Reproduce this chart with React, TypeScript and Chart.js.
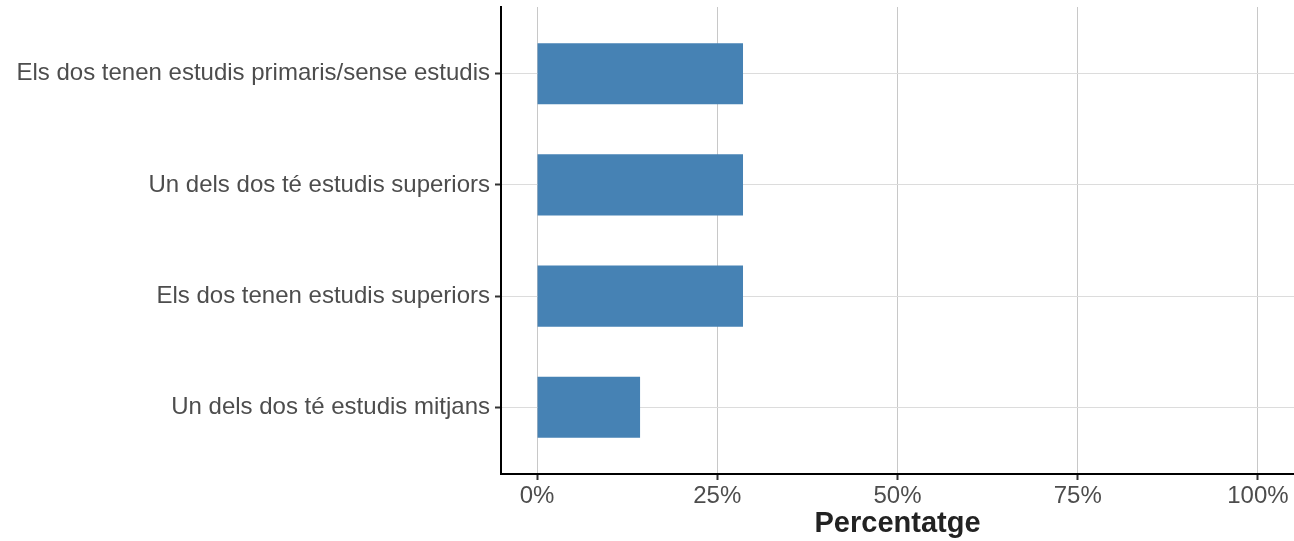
import React, { useEffect, useRef } from "react";
import { Chart, registerables } from "chart.js";

Chart.register(...registerables);

const categories = [
  "Els dos tenen estudis primaris/sense estudis",
  "Un dels dos té estudis superiors",
  "Els dos tenen estudis superiors",
  "Un dels dos té estudis mitjans",
];
const values = [28.57, 28.57, 28.57, 14.29];
const xTicks = [0, 25, 50, 75, 100];

export default function App() {
  const ref = useRef<HTMLCanvasElement | null>(null);
  useEffect(() => {
    document.body.style.margin = "0";
    const ctx = ref.current!;
    const font = "'Liberation Sans', Arial, Helvetica, sans-serif";
    const chart = new Chart(ctx, {
      type: "bar",
      data: {
        datasets: [
          {
            data: values.map((v, i) => ({ x: v, y: i + 1 })),
            backgroundColor: "#4682B4",
            barPercentage: 0.55,
            categoryPercentage: 1,
          },
        ],
      },
      options: {
        indexAxis: "y",
        responsive: false,
        animation: false,
        layout: { padding: { top: 7, right: 0, left: 0, bottom: 0 } },
        plugins: { legend: { display: false }, tooltip: { enabled: false } },
        scales: {
          x: {
            type: "linear",
            min: -5,
            max: 105,
            offset: false,
            afterBuildTicks: (s: any) => {
              s.ticks = xTicks.map((v) => ({ value: v }));
            },
            afterFit: (s: any) => {
              s.height = 67;
            },
            grid: {
              offset: false,
              color: "#c8c8c8",
              lineWidth: 1,
              tickColor: "#333333",
              tickWidth: 2,
              tickLength: 6,
            },
            border: { display: true, color: "#000000", width: 2 },
            ticks: {
              color: "#4d4d4d",
              font: { family: font, size: 24 },
              padding: 2,
              maxRotation: 0,
              callback: (v: any) => v + "%",
            },
            title: {
              display: true,
              text: "Percentatge",
              color: "#222222",
              font: { family: font, size: 29, weight: "bold" },
              padding: { top: 0, bottom: 0 },
            },
          },
          y: {
            type: "linear",
            reverse: true,
            min: 0.4,
            max: 4.6,
            offset: false,
            afterBuildTicks: (s: any) => {
              s.ticks = categories.map((_, i) => ({ value: i + 1 }));
            },
            afterFit: (s: any) => {
              s.width = 501;
              s.paddingTop = 0;
              s.paddingBottom = 0;
            },
            grid: {
              offset: false,
              color: "#dcdcdc",
              lineWidth: 1,
              tickColor: "#333333",
              tickWidth: 2,
              tickLength: 6,
            },
            border: { display: true, color: "#000000", width: 2 },
            ticks: {
              color: "#4d4d4d",
              font: { family: font, size: 24 },
              padding: 5,
              callback: (v: any) => categories[Math.round(v) - 1] ?? "",
            },
          },
        },
      },
    } as any);
    return () => chart.destroy();
  }, []);
  return (
    <div style={{ position: "fixed", left: 0, top: 0, width: 1294, height: 541 }}>
      <canvas ref={ref} width={1294} height={541} />
    </div>
  );
}
